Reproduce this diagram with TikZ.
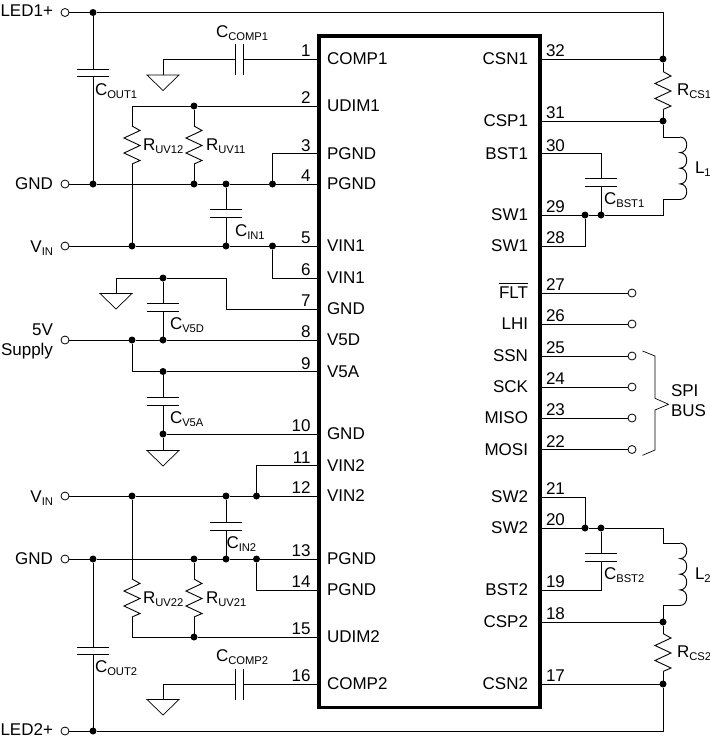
\documentclass[tikz,border=0pt]{standalone}
\usepackage{fontspec}
\setmainfont{Liberation Sans}
\newcommand\subt[1]{\raisebox{-3pt}{\fontsize{11.2}{11}\selectfont #1}}
\newcommand\ovl[1]{\setbox0\hbox{#1}\rlap{\raisebox{15pt}{\rule{\wd0}{0.8pt}}}\box0}
\tikzset{
  every node/.style={inner sep=0pt,outer sep=0pt,font=\fontsize{17}{19}\selectfont},
  wire/.style={line width=0.9pt,black},
  dotj/.style={circle,fill=black,draw=none,minimum size=7pt},
  term/.style={circle,draw=black,fill=white,line width=0.8pt,minimum size=8pt},
  labl/.style={anchor=base west},
  labr/.style={anchor=base east},
  chip/.style={draw=black,line width=3.2pt,line join=miter},
}
% pins: number, y, label
\newcommand\pinL[3]{%
  \coordinate (p#1) at (319,#2);
  \node[labr] (n#1) at (310.5,#2-2.5) {#1};
  \node[labl] (l#1) at (327,#2+5.5) {#3};}
\newcommand\pinR[3]{%
  \coordinate (p#1) at (540,#2);
  \node[labl] (n#1) at (546,#2-2.5) {#1};
  \node[labr] (l#1) at (528,#2+5.5) {#3};}
% vertical resistor: name, x, top y
\newcommand\resv[3]{%
  \coordinate (#1T) at (#2,#3);
  \coordinate (#1B) at (#2,#3+38);
  \draw[wire] (#1T) -- (#2+8,#3+4.5) -- (#2-8,#3+12) -- (#2+8,#3+19.5) -- (#2-8,#3+27) -- (#2+8,#3+34.5) -- (#1B);}
% vertical capacitor: name, x, y of upper plate, y of lower plate
\newcommand\capv[4]{%
  \coordinate (#1T) at (#2,#3);
  \coordinate (#1B) at (#2,#4);
  \draw[wire] (#2-16,#3) -- (#2+16,#3) (#2-16,#4) -- (#2+16,#4);}
% horizontal capacitor: name, y
\newcommand\caph[2]{%
  \coordinate (#1L) at (235,#2);
  \coordinate (#1R) at (243,#2);
  \draw[wire] (235,#2-15.5) -- (235,#2+16) (243,#2-15.5) -- (243,#2+16);}
% ground: name, x, top y
\newcommand\gndsym[3]{%
  \coordinate (#1) at (#2,#3);
  \draw[wire,line width=0.7pt] (#2-16,#3) -- (#2+16,#3) -- (#2,#3+15.5) -- cycle;}
% inductor: name, top y
\newcommand\coil[2]{%
  \coordinate (#1T) at (680,#2);
  \coordinate (#1B) at (680,#2+62.5);
  \draw[wire] (#1T)
    .. controls (689,#2) and (689,#2+15.6) .. (680,#2+15.6)
    .. controls (689,#2+15.6) and (689,#2+31.2) .. (680,#2+31.2)
    .. controls (689,#2+31.2) and (689,#2+46.9) .. (680,#2+46.9)
    .. controls (689,#2+46.9) and (689,#2+62.5) .. (#1B);}
\begin{document}
\begin{tikzpicture}[x=1pt,y=-1pt]
\useasboundingbox (0,0) rectangle (710,740);
% pins
\pinL{1}{59}{COMP1}
\pinL{2}{106}{UDIM1}
\pinL{3}{153.5}{PGND}
\pinL{4}{184}{PGND}
\pinL{5}{246}{VIN1}
\pinL{6}{278}{VIN1}
\pinL{7}{309}{GND}
\pinL{8}{340}{V5D}
\pinL{9}{371.5}{V5A}
\pinL{10}{434}{GND}
\pinL{11}{465.5}{VIN2}
\pinL{12}{496}{VIN2}
\pinL{13}{559}{PGND}
\pinL{14}{590}{PGND}
\pinL{15}{637}{UDIM2}
\pinL{16}{684}{COMP2}
\pinR{32}{59}{CSN1}
\pinR{31}{121}{CSP1}
\pinR{30}{153.5}{BST1}
\pinR{29}{215}{SW1}
\pinR{28}{246}{SW1}
\pinR{27}{293}{\ovl{FLT}}
\pinR{26}{324}{LHI}
\pinR{25}{356}{SSN}
\pinR{24}{387}{SCK}
\pinR{23}{418}{MISO}
\pinR{22}{449.5}{MOSI}
\pinR{21}{497}{SW2}
\pinR{20}{528}{SW2}
\pinR{19}{590}{BST2}
\pinR{18}{622}{CSP2}
\pinR{17}{684}{CSN2}
% terminal labels
\node[labr] (tlLEDa) at (53,16.5) {LED1+};
\node[labr] (tlGNDa) at (53,189.5) {GND};
\node[labr] (tlVINa) at (53,252) {V\subt{IN}};
\node[labr] (tl5V) at (53,335) {5V};
\node[labr] (tlSup) at (53,355.5) {Supply};
\node[labr] (tlVINb) at (53,502) {V\subt{IN}};
\node[labr] (tlGNDb) at (53,564.5) {GND};
\node[labr] (tlLEDb) at (53,735.5) {LED2+};
% terminals
\node[term] (tLEDa) at (65,12.5) {};
\node[term] (tGNDa) at (65,184) {};
\node[term] (tVINa) at (65,246) {};
\node[term] (t5V) at (65,340) {};
\node[term] (tVINb) at (65,496) {};
\node[term] (tGNDb) at (65,559) {};
\node[term] (tLEDb) at (65,731) {};
\node[term] (t27) at (632,293) {};
\node[term] (t26) at (632,324) {};
\node[term] (t25) at (632,356) {};
\node[term] (t24) at (632,387) {};
\node[term] (t23) at (632,418) {};
\node[term] (t22) at (632,449.5) {};
% junctions
\node[dotj] (jLa) at (93,12.5) {};
\node[dotj] (jGa) at (93,184) {};
\node[dotj] (jGb) at (194,184) {};
\node[dotj] (jGc) at (226,184) {};
\node[dotj] (jGd) at (272.5,184) {};
\node[dotj] (jUa) at (194,106) {};
\node[dotj] (jVa) at (132,246) {};
\node[dotj] (jVb) at (226,246) {};
\node[dotj] (jVc) at (272.5,246) {};
\node[dotj] (jDa) at (163,278) {};
\node[dotj] (jSa) at (132,340) {};
\node[dotj] (jSb) at (163,340) {};
\node[dotj] (jAa) at (163,371.5) {};
\node[dotj] (jAb) at (163,434) {};
\node[dotj] (jWa) at (132,496) {};
\node[dotj] (jWb) at (226,496) {};
\node[dotj] (jWc) at (256.5,496) {};
\node[dotj] (jHa) at (93,559) {};
\node[dotj] (jHb) at (194,559) {};
\node[dotj] (jHc) at (226,559) {};
\node[dotj] (jHd) at (256.5,559) {};
\node[dotj] (jUb) at (194,637) {};
\node[dotj] (jLb) at (93,731) {};
\node[dotj] (jCa) at (663,59) {};
\node[dotj] (jCb) at (663,121) {};
\node[dotj] (jSWa) at (585,215) {};
\node[dotj] (jSWb) at (601,215) {};
\node[dotj] (jSWc) at (585,528) {};
\node[dotj] (jSWd) at (601,528) {};
\node[dotj] (jCc) at (663,622) {};
\node[dotj] (jCd) at (663,684) {};
% corners
\coordinate (cLEDa) at (663,12.5);
\coordinate (cLEDb) at (663,731);
\coordinate (cUa) at (132,106);
\coordinate (cUb) at (132,637);
\coordinate (cGa) at (163,59);
\coordinate (cGb) at (163,684);
\coordinate (cDa) at (116,278);
\coordinate (cDb) at (226,309);
\coordinate (cLa) at (663,137);
\coordinate (cLb) at (663,199.5);
\coordinate (cLbb) at (663,215);
\coordinate (cLc) at (663,543);
\coordinate (cLcc) at (663,528);
\coordinate (cLd) at (663,605.5);
% components
\capv{co1}{93}{69}{76}
\capv{co2}{93}{647.5}{654.5}
\capv{ci1}{226}{209}{217}
\capv{ci2}{226}{522.5}{530.5}
\capv{cvd}{163}{303}{311.5}
\capv{cva}{163}{397}{405}
\capv{cb1}{601}{178.5}{186}
\capv{cb2}{601}{553.5}{561}
\caph{cc1}{59}
\caph{cc2}{684}
\resv{r12}{132}{126}
\resv{r11}{194}{126}
\resv{r22}{132}{579}
\resv{r21}{194}{579}
\resv{rs1}{663}{71.5}
\resv{rs2}{663}{633.5}
\coil{l1}{137}
\coil{l2}{543}
\gndsym{g1}{163}{75}
\gndsym{g2}{116}{293.5}
\gndsym{g3}{163}{450.5}
\gndsym{g4}{163}{699.5}
% wires
\draw[wire] (tLEDa) -- (jLa) -- (cLEDa) -- (jCa) -- (p32);
\draw[wire] (jLa) -- (co1T) (co1B) -- (jGa);
\draw[wire] (tGNDa) -- (jGa) -- (jGb) -- (jGc) -- (jGd) -- (p4);
\draw[wire] (jGd) |- (p3);
\draw[wire] (p1) -- (cc1R) (cc1L) -- (cGa) -- (g1);
\draw[wire] (p2) -- (jUa) -- (cUa) -- (r12T) (r12B) -- (jVa);
\draw[wire] (jUa) -- (r11T) (r11B) -- (jGb);
\draw[wire] (jGc) -- (ci1T) (ci1B) -- (jVb);
\draw[wire] (tVINa) -- (jVa) -- (jVb) -- (jVc) -- (p5);
\draw[wire] (jVc) |- (p6);
\draw[wire] (g2) -- (cDa) -- (jDa) -| (cDb) -- (p7);
\draw[wire] (jDa) -- (cvdT) (cvdB) -- (jSb);
\draw[wire] (t5V) -- (jSa) -- (jSb) -- (p8);
\draw[wire] (jSa) |- (jAa);
\draw[wire] (jAa) -- (p9);
\draw[wire] (jAa) -- (cvaT) (cvaB) -- (jAb) -- (g3);
\draw[wire] (jAb) -- (p10);
\draw[wire] (tVINb) -- (jWa) -- (jWb) -- (jWc) -- (p12);
\draw[wire] (jWc) |- (p11);
\draw[wire] (jWb) -- (ci2T) (ci2B) -- (jHc);
\draw[wire] (tGNDb) -- (jHa) -- (jHb) -- (jHc) -- (jHd) -- (p13);
\draw[wire] (jHd) |- (p14);
\draw[wire] (jWa) -- (r22T) (r22B) -- (cUb) -- (jUb) -- (p15);
\draw[wire] (jHb) -- (r21T) (r21B) -- (jUb);
\draw[wire] (jHa) -- (co2T) (co2B) -- (jLb);
\draw[wire] (tLEDb) -- (jLb) -- (cLEDb) -- (jCd) -- (p17);
\draw[wire] (p16) -- (cc2R) (cc2L) -- (cGb) -- (g4);
\draw[wire] (jCa) -- (rs1T) (rs1B) -- (jCb) -- (p31);
\draw[wire] (jCb) -- (cLa) -- (l1T);
\draw[wire] (p29) -- (jSWa) -- (jSWb) -- (cLbb) -- (cLb) -- (l1B);
\draw[wire] (jSWa) |- (p28);
\draw[wire] (p30) -| (cb1T);
\draw[wire] (cb1B) -- (jSWb);
\draw[wire] (p21) -| (jSWc);
\draw[wire] (p20) -- (jSWc) -- (jSWd) -- (cLcc) -- (cLc) -- (l2T);
\draw[wire] (jSWd) -- (cb2T) (cb2B) |- (p19);
\draw[wire] (l2B) -- (cLd) -- (jCc) -- (p18);
\draw[wire] (jCc) -- (rs2T) (rs2B) -- (jCd);
\foreach \i in {22,...,27} \draw[wire] (p\i) -- (t\i);
% chip
\draw[chip] (319,36) rectangle (540,707.5);
% component labels
\node[labl] (lc1) at (216,37.5) {C\subt{COMP1}};
\node[labl] (lc2) at (216,661.5) {C\subt{COMP2}};
\node[labl] (lo1) at (95,95.5) {C\subt{OUT1}};
\node[labl] (lo2) at (95,672.5) {C\subt{OUT2}};
\node[labl] (lr12) at (143,150) {R\subt{UV12}};
\node[labl] (lr11) at (206,150) {R\subt{UV11}};
\node[labl] (lr22) at (143,603) {R\subt{UV22}};
\node[labl] (lr21) at (206,603) {R\subt{UV21}};
\node[labl] (li1) at (235,236.5) {C\subt{IN1}};
\node[labl] (li2) at (226.5,548) {C\subt{IN2}};
\node[labl] (lvd) at (170,329.5) {C\subt{V5D}};
\node[labl] (lva) at (170,423) {C\subt{V5A}};
\node[labl] (lrs1) at (677,95) {R\subt{CS1}};
\node[labl] (lrs2) at (677,657.5) {R\subt{CS2}};
\node[labl] (ll1) at (695,173.5) {L\subt{1}};
\node[labl] (ll2) at (695,579) {L\subt{2}};
\node[labl] (lb1) at (604,204) {C\subt{BST1}};
\node[labl] (lb2) at (604,579.5) {C\subt{BST2}};
\node[labl] (lspi) at (671,396.5) {SPI};
\node[labl] (lbus) at (671,416.5) {BUS};
% brace
\draw[wire,line width=0.7pt] (642.5,351) -- (655,356) -- (655,398.3) -- (668.5,404.3) -- (655,410) -- (655,450) -- (642.5,455.3);
\end{tikzpicture}
\end{document}
